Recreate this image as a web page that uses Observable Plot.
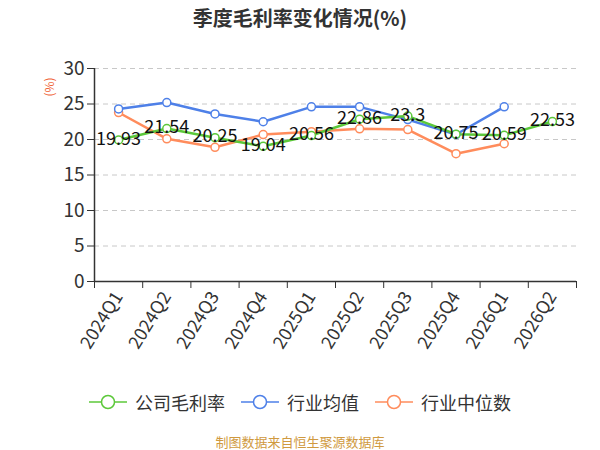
<!DOCTYPE html>
<html>
<head>
<meta charset="utf-8">
<script src="https://cdn.jsdelivr.net/npm/d3@7"></script>
<script src="https://cdn.jsdelivr.net/npm/@observablehq/plot@0.6"></script>
<style>
  body { margin: 0; background: #fff; font-family: "Noto Sans CJK SC", "Noto Sans", sans-serif; }
  #wrap { width: 600px; height: 450px; position: relative; overflow: hidden; }
  #title { height: 40px; line-height: 36px; text-align: center; font-size: 20px; font-weight: bold; color: #333; }
  #legend { height: 64px; display: flex; justify-content: center; align-items: center; gap: 16px; font-size: 18px; color: #333; }
  .item { display: flex; align-items: center; gap: 8px; }
  #caption { height: 16px; line-height: 16px; text-align: center; font-size: 13px; color: #d09a3f; }
  svg { display: block; }
</style>
</head>
<body>
<div id="wrap">
  <div id="title">季度毛利率变化情况(%)</div>
  <div id="chart"></div>
  <div id="legend"></div>
  <div id="caption">制图数据来自恒生聚源数据库</div>
</div>
<script>
const quarters = ["2024Q1","2024Q2","2024Q3","2024Q4","2025Q1","2025Q2","2025Q3","2025Q4","2026Q1","2026Q2"];
const company = [19.93, 21.54, 20.25, 19.04, 20.56, 22.86, 23.3, 20.75, 20.59, 22.53];
const industryMean = [24.3, 25.2, 23.6, 22.5, 24.6, 24.6, 22.8, 20.7, 24.6, null];
const industryMedian = [23.8, 20.1, 18.9, 20.7, 21.1, 21.5, 21.4, 18.0, 19.4, null];
const yTicks = [0, 5, 10, 15, 20, 25, 30];
const seriesNames = ["公司毛利率", "行业均值", "行业中位数"];
const colors = ["#5cc83a", "#4e80e8", "#ff8c5c"];

const idx = quarters.map((_, i) => i);
const boundaries = [...idx.map(i => i - 0.5), quarters.length - 0.5];
function toRows(vals) {
  return vals.map((v, i) => ({i, v})).filter(d => d.v != null);
}
const rowsC = toRows(company), rowsM = toRows(industryMean), rowsD = toRows(industryMedian);

const chart = Plot.plot({
  width: 600,
  height: 330,
  marginTop: 28,
  marginBottom: 89,
  marginLeft: 94,
  marginRight: 24,
  style: { fontFamily: "'Noto Sans CJK SC', 'Noto Sans', sans-serif", background: "#fff" },
  x: { type: "linear", domain: [-0.5, quarters.length - 0.5] },
  y: { domain: [0, 30] },
  marks: [
    Plot.ruleY(yTicks.filter(t => t > 0), { stroke: "#c8c8c8", strokeDasharray: "5,4", strokeWidth: 1 }),
    Plot.axisY(yTicks, { tickSize: 7, tickPadding: 3, fontSize: 19, color: "#333", stroke: "#333", label: null }),
    Plot.axisX(boundaries, { tickSize: 7, tickFormat: () => "", label: null, stroke: "#333" }),
    Plot.axisX(idx, { tickSize: 0, tickPadding: 12, tickRotate: -58, fontSize: 18, color: "#333", tickFormat: i => quarters[i], label: null }),
    Plot.ruleY([0], { stroke: "#333", strokeWidth: 1.5 }),
    Plot.ruleX([-0.5], { y1: 0, y2: 30, stroke: "#333", strokeWidth: 1.5 }),
    Plot.text(["(%)"], { frameAnchor: "top-left", dx: -49, dy: 28, rotate: -90, fill: "#f0663a", fontSize: 12 }),
    Plot.line(rowsD, { x: "i", y: "v", stroke: colors[2], strokeWidth: 2.5 }),
    Plot.line(rowsM, { x: "i", y: "v", stroke: colors[1], strokeWidth: 2.5 }),
    Plot.line(rowsC, { x: "i", y: "v", stroke: colors[0], strokeWidth: 2.5 }),
    Plot.dot(rowsD, { x: "i", y: "v", r: 4, fill: "#fff", stroke: colors[2], strokeWidth: 1.5 }),
    Plot.dot(rowsM, { x: "i", y: "v", r: 4, fill: "#fff", stroke: colors[1], strokeWidth: 1.5 }),
    Plot.dot(rowsC, { x: "i", y: "v", r: 4, fill: "#fff", stroke: colors[0], strokeWidth: 1.5 }),
    Plot.text(rowsC, { x: "i", y: "v", text: d => String(d.v), fontSize: 18, fill: "#111", dy: -1 })
  ]
});
document.getElementById("chart").appendChild(chart);

const legend = document.getElementById("legend");
seriesNames.forEach((name, k) => {
  const item = document.createElement("div");
  item.className = "item";
  item.innerHTML = `<svg width="38" height="16"><line x1="0" y1="8" x2="38" y2="8" stroke="${colors[k]}" stroke-width="1.5"/><circle cx="19" cy="8" r="6.5" fill="#fff" stroke="${colors[k]}" stroke-width="1.5"/></svg><span>${name}</span>`;
  legend.appendChild(item);
});
</script>
</body>
</html>
